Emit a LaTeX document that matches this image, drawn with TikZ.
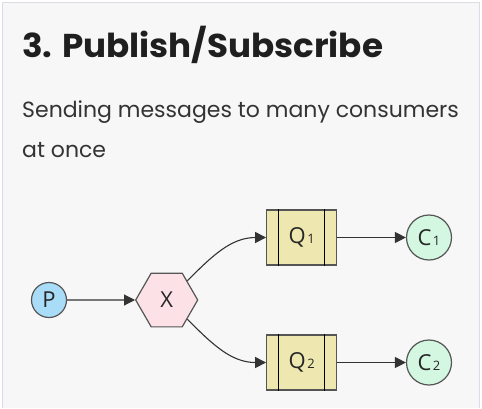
\documentclass[tikz,border=0pt]{standalone}
\usepackage{fontspec}
\setmainfont{Poppins}
\newfontfamily\labfont{Open Sans}
\usetikzlibrary{arrows.meta,shapes.geometric}
\definecolor{panel}{HTML}{F7F7F7}
\definecolor{edge}{HTML}{DCDCE6}
\definecolor{stroke}{HTML}{555555}
\definecolor{link}{HTML}{333333}
\definecolor{pfill}{HTML}{A9DDF7}
\definecolor{xfill}{HTML}{FCE1E6}
\definecolor{qfill}{HTML}{EEE8B0}
\definecolor{cfill}{HTML}{D4F7E1}
\newcommand{\subd}[1]{\kern1.5pt{\fontsize{13}{13}\selectfont #1}}
\tikzset{
  lab/.style={font=\labfont\fontsize{22}{22}\selectfont, text=black!85},
  prod/.style={circle, draw=stroke, line width=1.2pt, fill=pfill, minimum size=35pt, inner sep=0pt, lab},
  cons/.style={circle, draw=stroke, line width=1.2pt, fill=cfill, minimum size=45pt, inner sep=0pt, lab},
  exch/.style={regular polygon, regular polygon sides=6, draw=stroke, line width=1.2pt, fill=xfill, minimum size=62pt, inner sep=0pt, lab},
  queue/.style={rectangle, draw=stroke, line width=1.2pt, fill=qfill, minimum width=70pt, minimum height=55pt, inner sep=0pt, lab},
  conn/.style={draw=link, line width=1.1pt, -{Triangle[length=11pt,width=11pt]}},
}
\begin{document}
\begin{tikzpicture}[x=1pt,y=-1pt]
\useasboundingbox (0,0) rectangle (482,408);
\fill[white] (0,0) rectangle (482,408);
\fill[panel] (2.5,2.5) rectangle (479.5,408);
\draw[edge, line width=1pt] (2.5,408) -- (2.5,2.5) -- (479.5,2.5) -- (479.5,408);
\node[anchor=base west, inner sep=0pt, font=\bfseries\fontsize{33}{33}\selectfont, text=black!88] (title) at (22,57) {\scalebox{1.035}[1]{3. Publish/Subscribe}};
\node[anchor=base west, inner sep=0pt, font=\fontsize{22}{22}\selectfont, text=black!80] (sub1) at (22,117) {Sending messages to many consumers};
\node[anchor=base west, inner sep=0pt, font=\fontsize{22}{22}\selectfont, text=black!80] (sub2) at (22,157) {at once};
\node[prod] (P) at (49,300) {P};
\node[exch] (X) at (166.7,300) {X};
\node[queue] (Q1) at (301.7,237.5) {Q\subd{1}};
\node[queue] (Q2) at (301.7,362.5) {Q\subd{2}};
\node[cons] (C1) at (429,237.5) {C\subd{1}};
\node[cons] (C2) at (429,362.5) {C\subd{2}};
\foreach \q in {Q1,Q2}{
  \draw[stroke, line width=1.2pt] ([xshift=12.5pt]\q.north west) -- ([xshift=12.5pt]\q.south west);
  \draw[stroke, line width=1.2pt] ([xshift=-12.5pt]\q.north east) -- ([xshift=-12.5pt]\q.south east);
}
\draw[conn] (P) -- (X);
\draw[conn] (X.43) to[out=45,in=180] (Q1.west);
\draw[conn] (X.-43) to[out=-45,in=180] (Q2.west);
\draw[conn] (Q1) -- (C1);
\draw[conn] (Q2) -- (C2);
\end{tikzpicture}
\end{document}
